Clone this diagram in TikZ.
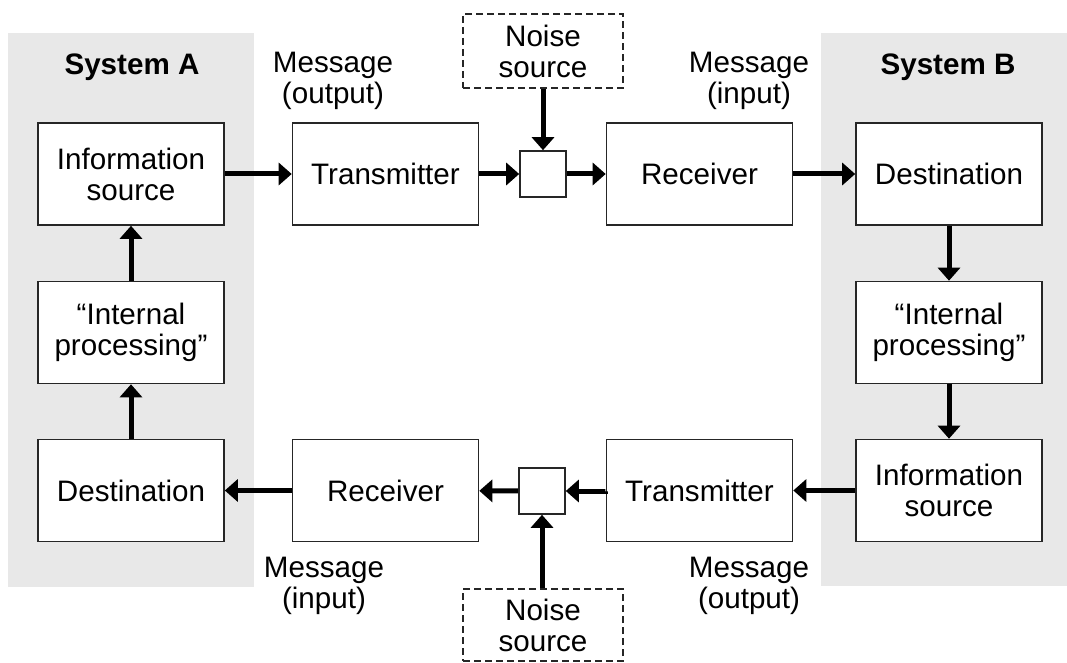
\documentclass[tikz,border=0pt]{standalone}
\usepackage{fontspec}
\setmainfont{Liberation Sans}
\usetikzlibrary{arrows.meta}
\definecolor{panel}{HTML}{E8E8E8}
\tikzset{
  blk/.style={draw=black!85, line width=1.6pt, fill=white, minimum width=186pt, minimum height=102pt, inner sep=0pt, align=center, font=\fontsize{29.6}{31}\selectfont},
  mix/.style={draw=black!85, line width=1.6pt, fill=white, minimum width=46pt, minimum height=46pt, inner sep=0pt},
  noise/.style={draw=black!85, line width=2pt, dash pattern=on 7pt off 4pt, fill=white, minimum width=160pt, inner sep=0pt, align=center, font=\fontsize{29.6}{31}\selectfont},
  lbl/.style={align=center, inner sep=0pt, font=\fontsize{29.6}{31}\selectfont},
  ttl/.style={inner sep=0pt, font=\fontsize{29.6}{31}\selectfont\bfseries},
  flow/.style={line width=5pt, -{Triangle[length=13pt,width=22pt]}},
  panelbg/.style={fill=panel, draw=none}
}
\begin{document}
\begin{tikzpicture}[x=1pt,y=-1pt]
\useasboundingbox (0,0) rectangle (1067,663);
\fill[white] (0,0) rectangle (1067,663);
\path[panelbg] (8,33) rectangle (254,587);
\path[panelbg] (821,33) rectangle (1067,586);
\node[ttl] (sysA) at (132,67) {System A};
\node[ttl] (sysB) at (948,67) {System B};
% System A column
\node[blk] (isA) at (131,174) {Information\\source};
\node[blk] (ipA) at (131,332.5) {“Internal\\processing”};
\node[blk] (dA) at (131,490.5) {Destination};
% System B column
\node[blk] (dB) at (949,174) {Destination};
\node[blk] (ipB) at (949,332.5) {“Internal\\processing”};
\node[blk] (isB) at (949,490.5) {Information\\source};
% top channel
\node[blk] (txT) at (385.5,174) {Transmitter};
\node[mix] (mT) at (543,174) {};
\node[blk] (rxT) at (699.5,174) {Receiver};
\node[noise, minimum height=74pt] (nT) at (543,51) {Noise\\source};
% bottom channel
\node[blk] (rxB) at (385.5,490.5) {Receiver};
\node[mix] (mB) at (542,491) {};
\node[blk] (txB) at (699.5,490.5) {Transmitter};
\node[noise, minimum height=72pt] (nB) at (543,625) {Noise\\source};
% labels
\node[lbl] (moT) at (333,81) {Message\\(output)};
\node[lbl] (miT) at (749,81) {Message\\(input)};
\node[lbl] (miB) at (324,586) {Message\\(input)};
\node[lbl] (moB) at (749,586) {Message\\(output)};
% top flow
\draw[flow] (isA) -- (txT);
\draw[flow] (txT) -- (mT);
\draw[flow] (mT) -- (rxT);
\draw[flow] (rxT) -- (dB);
\draw[flow] (nT) -- (mT);
% B column
\draw[flow] (dB) -- (ipB);
\draw[flow] (ipB) -- (isB);
% bottom flow
\draw[flow] (isB) -- (txB);
\draw[flow] (txB) -- (mB -| txB.west) -- (mB);
\draw[flow] (mB) -- (rxB);
\draw[flow] (rxB) -- (dA);
\draw[flow] (nB.north -| mB) -- (mB);
% A column
\draw[flow] (dA) -- (ipA);
\draw[flow] (ipA) -- (isA);
\end{tikzpicture}
\end{document}
